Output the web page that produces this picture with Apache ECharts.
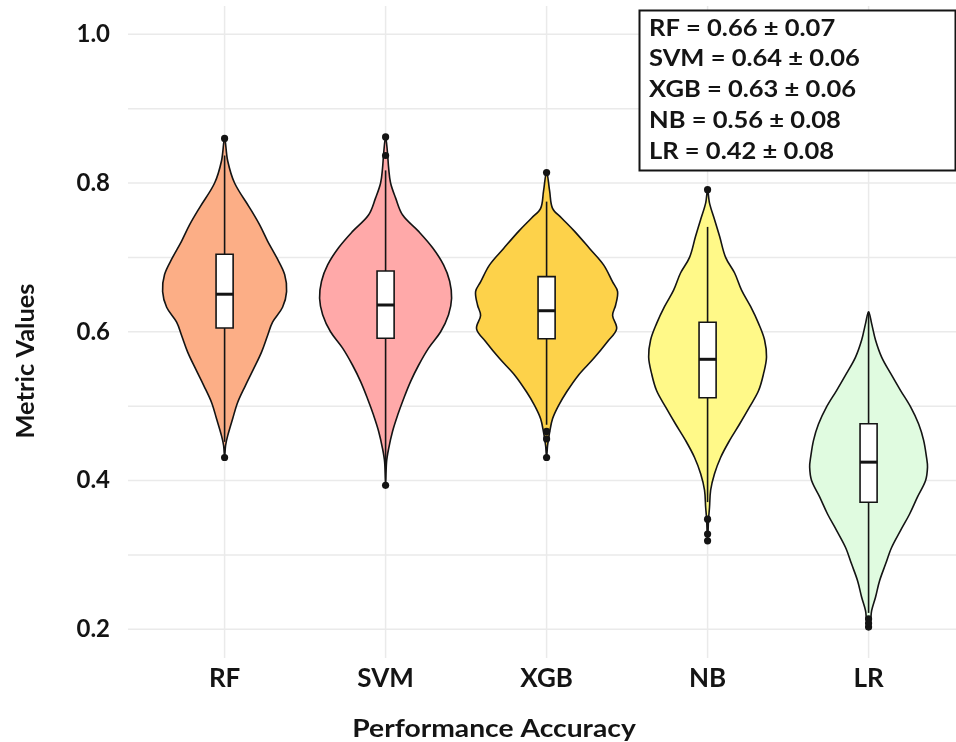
<!DOCTYPE html>
<html><head><meta charset="utf-8">
<script src="https://cdn.jsdelivr.net/npm/echarts@6/dist/echarts.min.js"></script>
<style>html,body{margin:0;padding:0;background:#fff}#c{width:956px;height:742px}</style>
</head><body><div id="c"></div>
<script>
// ---------- data ----------
const categories = ['RF', 'SVM', 'XGB', 'NB', 'LR'];
const yTickLabels = [0.2, 0.4, 0.6, 0.8, 1.0];
const gridValuesY = [0.2, 0.3, 0.4, 0.5, 0.6, 0.7, 0.8, 0.9, 1.0];

// violin outlines: metric value and half-width (density scaled to category units)
const rfY  = [0.431, 0.447, 0.460, 0.483, 0.505, 0.528, 0.550, 0.573, 0.595, 0.613, 0.633, 0.654, 0.677, 0.700, 0.722, 0.744, 0.767, 0.800, 0.830, 0.860];
const rfW  = [0, 0.006, 0.019, 0.050, 0.081, 0.130, 0.180, 0.230, 0.267, 0.298, 0.360, 0.385, 0.373, 0.323, 0.267, 0.217, 0.155, 0.062, 0.019, 0];
const svmY = [0.3935, 0.425, 0.443, 0.466, 0.488, 0.510, 0.533, 0.555, 0.578, 0.600, 0.623, 0.645, 0.668, 0.690, 0.713, 0.735, 0.757, 0.780, 0.800, 0.820, 0.840, 0.862];
const svmW = [0, 0.006, 0.019, 0.043, 0.075, 0.112, 0.155, 0.205, 0.267, 0.342, 0.391, 0.410, 0.398, 0.360, 0.292, 0.205, 0.106, 0.062, 0.031, 0.019, 0.012, 0];
const xgbY = [0.431, 0.447, 0.465, 0.483, 0.501, 0.519, 0.542, 0.564, 0.587, 0.604, 0.622, 0.636, 0.654, 0.667, 0.690, 0.712, 0.735, 0.753, 0.766, 0.789, 0.815];
const xgbW = [0, 0.006, 0.019, 0.037, 0.075, 0.124, 0.199, 0.292, 0.379, 0.435, 0.410, 0.429, 0.441, 0.410, 0.354, 0.267, 0.174, 0.093, 0.037, 0.019, 0];
const nbY  = [0.318, 0.348, 0.364, 0.387, 0.409, 0.431, 0.454, 0.476, 0.499, 0.521, 0.544, 0.566, 0.589, 0.611, 0.634, 0.656, 0.679, 0.700, 0.728, 0.751, 0.773, 0.791];
const nbW  = [0, 0.006, 0.012, 0.019, 0.043, 0.081, 0.137, 0.199, 0.261, 0.317, 0.348, 0.366, 0.354, 0.317, 0.267, 0.211, 0.168, 0.112, 0.075, 0.043, 0.012, 0];
const lrY  = [0.203, 0.211, 0.225, 0.243, 0.265, 0.288, 0.310, 0.333, 0.355, 0.378, 0.400, 0.418, 0.431, 0.454, 0.476, 0.499, 0.521, 0.544, 0.566, 0.589, 0.611, 0.627];
const lrW  = [0, 0.012, 0.019, 0.043, 0.068, 0.106, 0.143, 0.199, 0.255, 0.304, 0.354, 0.366, 0.360, 0.342, 0.311, 0.261, 0.199, 0.137, 0.081, 0.043, 0.019, 0];

// box plot statistics
const q1          = [0.6050, 0.5912, 0.5907, 0.5114, 0.3708];
const medians     = [0.6505, 0.6360, 0.6283, 0.5630, 0.4247];
const q3          = [0.7043, 0.6817, 0.6741, 0.6128, 0.4764];
const whiskerLow  = [0.452, 0.420, 0.475, 0.371, 0.222];
const whiskerHigh = [0.837, 0.817, 0.775, 0.741, 0.627];
const rfOut  = [0.431, 0.860];
const svmOut = [0.3935, 0.837, 0.862];
const xgbOut = [0.431, 0.456, 0.466, 0.814];
const nbOut  = [0.319, 0.328, 0.348, 0.791];
const lrOut  = [0.203, 0.208, 0.214];

// summary annotation
const means = [0.66, 0.64, 0.63, 0.56, 0.42];
const sds   = [0.07, 0.06, 0.06, 0.08, 0.08];

// ---------- chart ----------
const violinY = [rfY, svmY, xgbY, nbY, lrY];
const violinW = [rfW, svmW, xgbW, nbW, lrW];
const outliers = [rfOut, svmOut, xgbOut, nbOut, lrOut];
const fills = ['#FCAE86', '#FFA9A9', '#FDD24A', '#FFF988', '#E0FBE0'];
const ink = '#141414';
const FONT = 'Lato';
const boxHalf = 0.053;

const chart = echarts.init(document.getElementById('c'), null, {renderer: 'canvas'});

function gridItem(params, api) {
  const cs = params.coordSys;
  const children = [];
  gridValuesY.forEach(v => {
    const p = api.coord([1, v]);
    children.push({type: 'line', shape: {x1: cs.x, y1: p[1], x2: cs.x + cs.width, y2: p[1]},
      style: {stroke: '#EAEAEA', lineWidth: 1.5}});
  });
  categories.forEach((c, i) => {
    const p = api.coord([i + 1, 0.5]);
    children.push({type: 'line', shape: {x1: p[0], y1: cs.y, x2: p[0], y2: cs.y + cs.height},
      style: {stroke: '#EAEAEA', lineWidth: 1.5}});
  });
  return {type: 'group', children};
}

function violinItem(params, api) {
  const i = params.dataIndex;
  const ys = violinY[i], ws = violinW[i], cx = i + 1;
  const pts = [];
  for (let k = 0; k < ys.length; k++) pts.push(api.coord([cx + ws[k], ys[k]]));
  for (let k = ys.length - 2; k >= 1; k--) pts.push(api.coord([cx - ws[k], ys[k]]));
  const children = [];
  children.push({type: 'polygon', shape: {points: pts, smooth: 0.35},
    style: {fill: fills[i], stroke: ink, lineWidth: 1.6}});
  const a = api.coord([cx, whiskerLow[i]]), b = api.coord([cx, q1[i]]);
  const c = api.coord([cx, q3[i]]), d = api.coord([cx, whiskerHigh[i]]);
  children.push({type: 'line', shape: {x1: a[0], y1: a[1], x2: b[0], y2: b[1]}, style: {stroke: ink, lineWidth: 1.6}});
  children.push({type: 'line', shape: {x1: c[0], y1: c[1], x2: d[0], y2: d[1]}, style: {stroke: ink, lineWidth: 1.6}});
  const tl = api.coord([cx - boxHalf, q3[i]]), br = api.coord([cx + boxHalf, q1[i]]);
  children.push({type: 'rect', shape: {x: tl[0], y: tl[1], width: br[0] - tl[0], height: br[1] - tl[1]},
    style: {fill: '#ffffff', stroke: ink, lineWidth: 1.6}});
  const m1 = api.coord([cx - boxHalf, medians[i]]), m2 = api.coord([cx + boxHalf, medians[i]]);
  children.push({type: 'line', shape: {x1: m1[0], y1: m1[1], x2: m2[0], y2: m2[1]}, style: {stroke: ink, lineWidth: 3}});
  outliers[i].forEach(v => {
    const p = api.coord([cx, v]);
    children.push({type: 'circle', shape: {cx: p[0], cy: p[1], r: 3.6}, style: {fill: ink}});
  });
  return {type: 'group', children};
}

const legendLines = categories.map((c, i) => `${c} = ${means[i].toFixed(2)} ± ${sds[i].toFixed(2)}`);

chart.setOption({
  animation: false,
  backgroundColor: '#ffffff',
  grid: {left: 128, right: 0, top: 6, bottom: 84, outerBoundsMode: 'none', containLabel: false},
  xAxis: {
    type: 'value', min: 0.4, max: 5.543,
    axisLine: {show: false}, axisTick: {show: false}, splitLine: {show: false},
    axisLabel: {customValues: [1, 2, 3, 4, 5], formatter: v => categories[Math.round(v) - 1],
      fontFamily: FONT, fontWeight: 'bold', fontSize: 26, color: ink, margin: 8}
  },
  yAxis: {
    type: 'value', min: 0.1614, max: 1.038,
    axisLine: {show: false}, axisTick: {show: false}, splitLine: {show: false},
    axisLabel: {customValues: yTickLabels, formatter: v => v.toFixed(1),
      fontFamily: FONT, fontWeight: 'bold', fontSize: 24, color: ink, margin: 18}
  },
  series: [
    {type: 'custom', renderItem: gridItem, data: [[0]], z: 1, silent: true},
    {type: 'custom', renderItem: violinItem, data: categories.map((c, i) => [i + 1]), z: 2, silent: true}
  ],
  graphic: [
    {type: 'text', x: 26, y: 361, rotation: Math.PI / 2, scaleX: 1.06,
      style: {text: 'Metric Values', fontFamily: FONT, fontWeight: 'bold', fontSize: 24, fill: ink,
        align: 'center', verticalAlign: 'middle'}},
    {type: 'text', x: 494, y: 729, scaleX: 1.13,
      style: {text: 'Performance Accuracy', fontFamily: FONT, fontWeight: 'bold', fontSize: 25, fill: ink,
        align: 'center', verticalAlign: 'middle'}},
    {type: 'rect', shape: {x: 639.5, y: 10.5, width: 316, height: 160},
      style: {fill: '#ffffff', stroke: ink, lineWidth: 2}, z: 10},
    ...legendLines.map((t, k) => ({type: 'text', x: 649, y: 28.5 + k * 30.8, z: 11, scaleX: 1.16,
      style: {text: t, fontFamily: FONT, fontWeight: 'bold', fontSize: 22, fill: ink,
        align: 'left', verticalAlign: 'middle'}}))
  ]
});
</script></body></html>
